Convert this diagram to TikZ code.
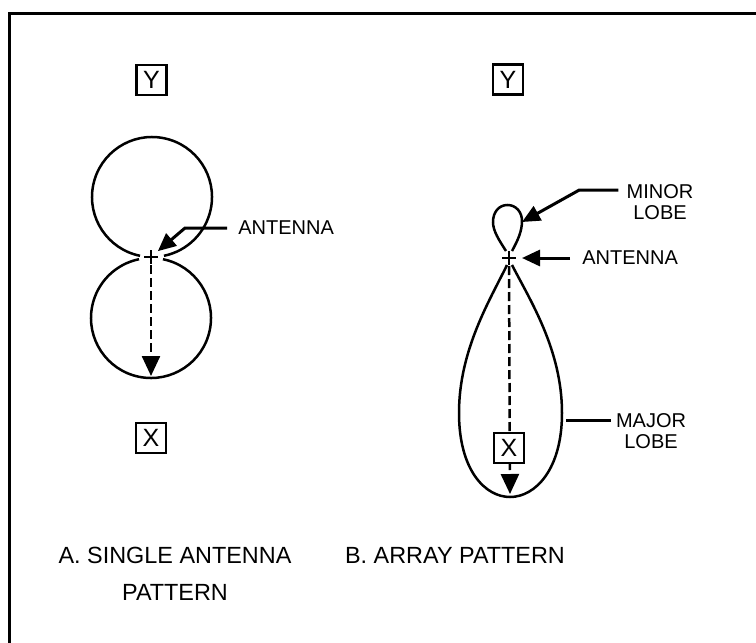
\documentclass[tikz,border=0pt]{standalone}
\usepackage{fontspec}
\setmainfont{Liberation Sans}
\usetikzlibrary{arrows.meta}
\tikzset{
  >=Latex,
  frame/.style={line width=1.8pt},
  lobe/.style={line width=1.25pt},
  axisbox/.style={draw,line width=1.4pt,fill=white,minimum size=15pt,inner sep=0pt,font=\fontsize{12.5}{12.5}\selectfont},
  beam/.style={-{Triangle[length=10pt,width=9pt]},dash pattern=on 4.5pt off 2pt,line width=1.25pt},
  leader/.style={line width=1.5pt},
  pointer/.style={leader,-{Triangle[length=9pt,width=8pt]}},
  lbl/.style={inner sep=0pt,align=center,font=\fontsize{10}{10.5}\selectfont},
  caption/.style={inner sep=0pt,align=center,font=\fontsize{11.7}{18.5}\selectfont}
}
\begin{document}
\begin{tikzpicture}[x=0.5pt,y=-0.5pt]
  \useasboundingbox (0,0) rectangle (756,643);
  \draw[frame] (9.5,643) -- (9.5,13.5) -- (756,13.5);

  % A. single antenna
  \coordinate (antA) at (151,257);
  \coordinate (tipA) at (151,376);
  \node[axisbox] (yA) at (151.5,80) {Y};
  \node[axisbox] (xA) at (151,438) {X};
  \draw[lobe] (152,197) ++(101.5:60) arc[start angle=101.5,end angle=438.5,radius=60];
  \draw[lobe] (151,318) ++(281.5:60) arc[start angle=281.5,end angle=618.5,radius=60];
  \draw[lobe] (antA) +(-7,0) -- +(7,0) +(0,-7) -- +(0,7);
  \draw[beam] ([yshift=-4pt]antA) -- (tipA);
  \node[lbl,anchor=west] (antlblA) at (238,228) {ANTENNA};
  \draw[pointer,shorten >=4.5pt] ([xshift=-5.5pt]antlblA.west) -- ++(-42,0) -- (antA);
  \node[caption] (capA) at (175,573.5) {A. SINGLE ANTENNA\\PATTERN};

  % B. array pattern
  \coordinate (antB) at (509,258);
  \coordinate (tipB) at (510,494);
  \coordinate (minortip) at (522,222);
  \node[axisbox] (yB) at (508,79.5) {Y};
  \draw[lobe] (506,251) .. controls (499,240) and (493,231) .. (493,222)
    .. controls (493,212) and (499,205) .. (507.5,205)
    .. controls (516,205) and (522,212) .. (522,221)
    .. controls (522,231) and (518,240) .. (512,251);
  \draw[lobe] (512,265) .. controls (530,300) and (562,350) .. (562,413)
    .. controls (562,470) and (535,497) .. (510,497)
    .. controls (485,497) and (459,470) .. (459,413)
    .. controls (459,350) and (490,300) .. (507,265);
  \draw[lobe] (antB) +(-7,0) -- +(7,0) +(0,-7) -- +(0,7);
  \draw[beam] ([yshift=-4pt]antB) -- (tipB);
  \node[axisbox] (xB) at (509,448) {X};
  \node[lbl,anchor=west] (antlblB) at (582,258) {ANTENNA};
  \draw[pointer,shorten >=6.5pt] ([xshift=-6pt]antlblB.west) -- (antB);
  \node[lbl] (minorlbl) at (660,202) {MINOR\\LOBE};
  \draw[pointer] ([shift={(-4pt,-3pt)}]minorlbl.north west) -- ++(-39,0) -- (minortip);
  \node[lbl] (majorlbl) at (651,431) {MAJOR\\LOBE};
  \draw[leader] ([shift={(-2.5pt,-3.5pt)}]majorlbl.north west) -- ++(-45,0);
  \node[caption] (capB) at (455,555) {B. ARRAY PATTERN};
\end{tikzpicture}
\end{document}
